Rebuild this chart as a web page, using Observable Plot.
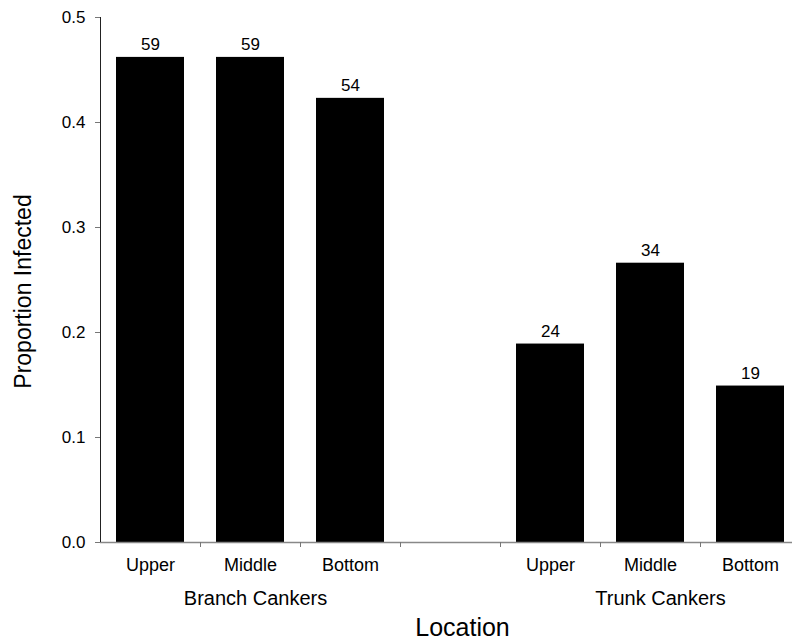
<!DOCTYPE html>
<html><head><meta charset="utf-8">
<script src="https://cdn.jsdelivr.net/npm/d3@7"></script>
<script src="https://cdn.jsdelivr.net/npm/@observablehq/plot@0.6"></script>
<style>body{margin:0;background:#fff}</style>
</head><body><div id="chart"></div>
<script>
const groups = ["Branch Cankers", "Trunk Cankers"];
const locations = ["Upper", "Middle", "Bottom"];
const branchProportion = [0.462, 0.462, 0.423];
const trunkProportion = [0.189, 0.266, 0.149];
const branchCount = [59, 59, 54];
const trunkCount = [24, 34, 19];
const yTicks = [0, 0.1, 0.2, 0.3, 0.4, 0.5];
const gapSlot = "gap";

const slotOf = (g, l) => g + "|" + l;
const slots = [...locations.map(l => slotOf(groups[0], l)), gapSlot, ...locations.map(l => slotOf(groups[1], l))];
const data = [
  ...locations.map((l, i) => ({slot: slotOf(groups[0], l), location: l, value: branchProportion[i], n: branchCount[i]})),
  ...locations.map((l, i) => ({slot: slotOf(groups[1], l), location: l, value: trunkProportion[i], n: trunkCount[i]}))
];

const chart = Plot.plot({
  width: 792, height: 644,
  marginLeft: 100, marginRight: 0, marginTop: 17, marginBottom: 102,
  style: {fontFamily: "'Liberation Sans', Arial, sans-serif", color: "#000", background: "#fff", fontSize: "17px"},
  x: {type: "band", domain: slots, range: [100, 800], paddingInner: 0.32, paddingOuter: 0.16, axis: null},
  y: {domain: [0, 0.5], axis: null},
  marks: [
    Plot.barY(data, {x: "slot", y: "value", fill: "#000"}),
    Plot.ruleY([0], {stroke: "#888", strokeWidth: 1.5}),
    Plot.ruleX(slots.slice(1), {x: d => d, y1: () => 0, y2: () => 0, dx: -50, insetBottom: -5, stroke: "#777"}),
    Plot.ruleX([slots[0]], {x: d => d, y1: () => 0, y2: () => 0.5, dx: -50, stroke: "#222"}),
    Plot.axisY({ticks: yTicks, tickFormat: d3.format(".1f"), tickSize: 5, tickPadding: 10, fontSize: 17, stroke: "#777", fill: "#000", label: null}),
    Plot.text(data, {x: "slot", y: "value", text: d => String(d.n), dy: -7, lineAnchor: "bottom", fontSize: 17, fill: "#000"}),
    Plot.text(data, {x: "slot", y: () => 0, text: "location", dy: 23, fontSize: 18, fill: "#000"}),
    Plot.text([groups[0]], {x: () => slotOf(groups[0], "Middle"), y: () => 0, text: d => d, dy: 56, dx: 5, fontSize: 20, fill: "#000"}),
    Plot.text([groups[1]], {x: () => slotOf(groups[1], "Middle"), y: () => 0, text: d => d, dy: 56, dx: 10, fontSize: 20, fill: "#000"}),
    Plot.text(["Location"], {frameAnchor: "bottom", text: d => d, dy: 93, dx: 16, fontSize: 25, fill: "#000"}),
    Plot.text(["Proportion Infected"], {frameAnchor: "left", textAnchor: "middle", text: d => d, rotate: -90, dx: -77, dy: 11.5, fontSize: 23, fill: "#000"})
  ]
});
document.getElementById("chart").appendChild(chart);
</script>
</body></html>
